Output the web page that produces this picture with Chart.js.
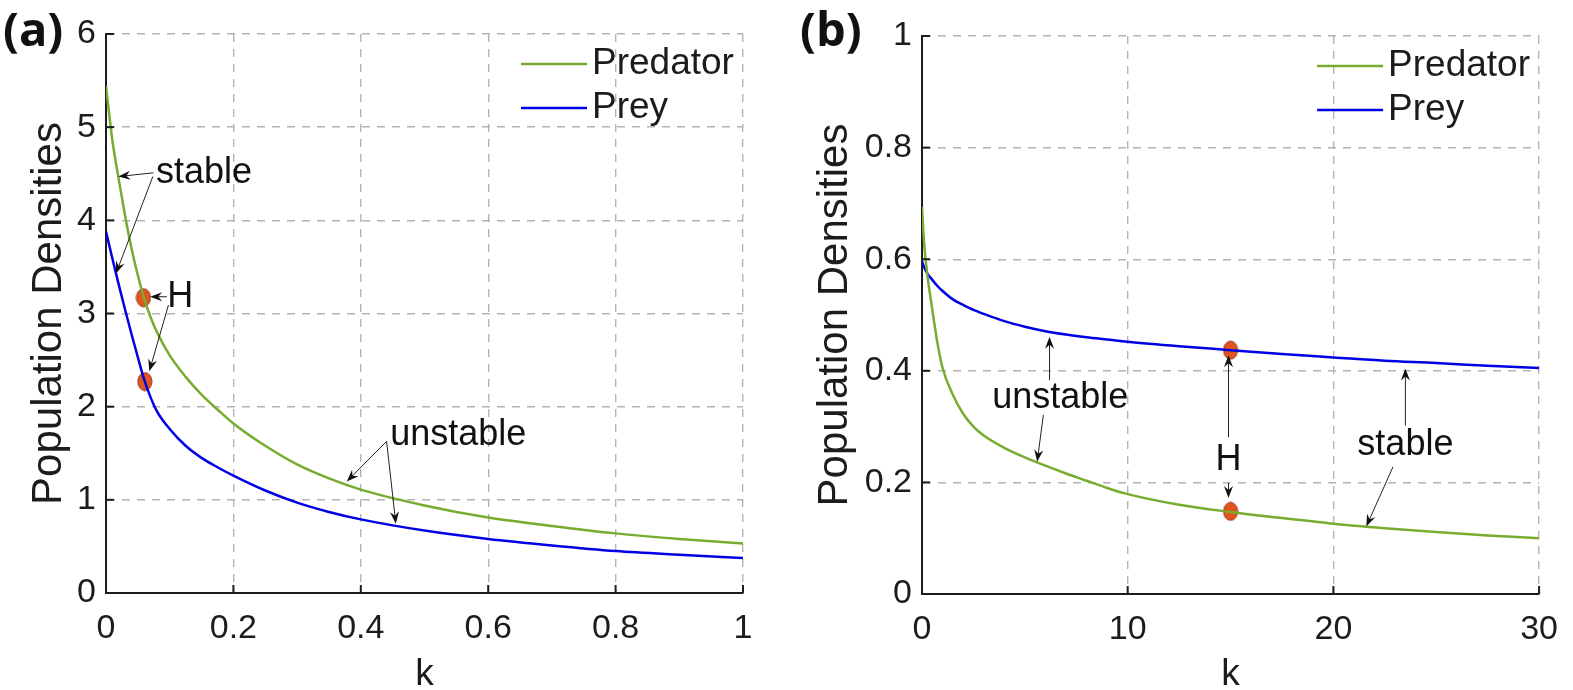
<!DOCTYPE html>
<html>
<head>
<meta charset="utf-8">
<script src="https://cdn.jsdelivr.net/npm/chart.js@4.4.1/dist/chart.umd.min.js"></script>
<style>
  html, body { margin: 0; padding: 0; background: #fff; }
  body { width: 1573px; height: 690px; position: relative; overflow: hidden; }
  .panel { position: absolute; top: 0; height: 690px; }
  #wrapA { left: 0; width: 786px; }
  #wrapB { left: 786px; width: 787px; }
  .tag { position: absolute; font-family: "Open Sans", sans-serif; font-weight: 700; font-size: 47px; line-height: 1; color: #111; }
</style>
</head>
<body>
<div class="panel" id="wrapA"><canvas id="chartA"></canvas></div>
<div class="panel" id="wrapB"><canvas id="chartB"></canvas></div>
<div class="tag" style="left:3px;top:5px">(a)</div>
<div class="tag" style="left:800px;top:5px">(b)</div>
<script>
// panel (a): k in [0, 1]
const kA = [0, 0.01, 0.02, 0.03, 0.04, 0.05, 0.06, 0.07, 0.08, 0.1, 0.125, 0.15, 0.175, 0.2, 0.25, 0.3, 0.35, 0.4, 0.5, 0.6, 0.7, 0.8, 0.9, 1];
const predatorA = [5.44, 4.86, 4.44, 4.05, 3.7, 3.41, 3.16, 2.96, 2.8, 2.55, 2.32, 2.13, 1.97, 1.82, 1.58, 1.38, 1.23, 1.11, 0.94, 0.81, 0.72, 0.64, 0.58, 0.53];
const preyA = [3.88, 3.59, 3.31, 3.04, 2.78, 2.53, 2.29, 2.1, 1.95, 1.76, 1.58, 1.45, 1.35, 1.26, 1.1, 0.97, 0.87, 0.79, 0.67, 0.58, 0.51, 0.45, 0.41, 0.375];
const hopfKA = [0.0588, 0.061];
const hopfVA = [3.17, 2.27];
const xTicksA = [0, 0.2, 0.4, 0.6, 0.8, 1];
const xLabelsA = ['0', '0.2', '0.4', '0.6', '0.8', '1'];
const yTicksA = [0, 1, 2, 3, 4, 5, 6];
const yLabelsA = ['0', '1', '2', '3', '4', '5', '6'];

// panel (b): k in [0, 30]
const kB = [0, 0.1, 0.25, 0.5, 0.75, 1, 1.5, 2, 2.5, 3, 4, 5, 6, 7, 8, 9, 10, 12.5, 15, 17.5, 20, 22.5, 25, 27.5, 30];
const predatorB = [0.694, 0.63, 0.575, 0.51, 0.45, 0.405, 0.357, 0.323, 0.3, 0.284, 0.262, 0.245, 0.23, 0.216, 0.203, 0.19, 0.179, 0.16, 0.147, 0.136, 0.126, 0.118, 0.111, 0.105, 0.1];
const preyB = [0.596, 0.586, 0.575, 0.563, 0.552, 0.543, 0.528, 0.518, 0.509, 0.502, 0.489, 0.479, 0.471, 0.465, 0.46, 0.456, 0.452, 0.444, 0.437, 0.43, 0.424, 0.418, 0.414, 0.409, 0.405];
const hopfKB = [15, 15];
const hopfVB = [0.437, 0.148];
const xTicksB = [0, 10, 20, 30];
const xLabelsB = ['0', '10', '20', '30'];
const yTicksB = [0, 0.2, 0.4, 0.6, 0.8, 1];
const yLabelsB = ['0', '0.2', '0.4', '0.6', '0.8', '1'];

// annotations, anchored in data units: [k, value]
const notesA = [
  { text: 'stable', k: 0.154, v: 4.51 },
  { text: 'H', k: 0.1165, v: 3.18 },
  { text: 'unstable', k: 0.553, v: 1.70 },
];
const arrowsA = [
  [0.0745, 4.51, 0.0194, 4.47],
  [0.0735, 4.47, 0.0157, 3.43],
  [0.0956, 3.18, 0.0693, 3.18],
  [0.098, 3.09, 0.068, 2.38],
  [0.4405, 1.627, 0.378, 1.197],
  [0.4405, 1.627, 0.455, 0.744],
];
const notesB = [
  { text: 'unstable', k: 6.72, v: 0.351 },
  { text: 'H', k: 14.9, v: 0.24 },
  { text: 'stable', k: 23.5, v: 0.267 },
];
const arrowsB = [
  [6.2, 0.383, 6.2, 0.461],
  [5.9, 0.321, 5.6, 0.237],
  [14.9, 0.281, 14.9, 0.428],
  [14.9, 0.199, 14.9, 0.172],
  [23.5, 0.302, 23.5, 0.404],
  [22.9, 0.228, 21.6, 0.121],
];

const FONT = '"Liberation Sans", Arial, Helvetica, sans-serif';
const INK = '#1c1c1c';
const GRID = '#b4b4b4';
const GREEN = '#77AC30';
const BLUE = '#0000E6';

function ellipseDot() {
  const c = document.createElement('canvas');
  c.width = 16; c.height = 20;
  const g = c.getContext('2d');
  g.fillStyle = '#E2561E';
  g.strokeStyle = '#8a2c0c';
  g.lineWidth = 1;
  g.beginPath();
  g.ellipse(8, 10, 7, 9, 0, 0, Math.PI * 2);
  g.fill();
  g.stroke();
  return c;
}
const dotImg = ellipseDot();

function drawArrow(ctx, x1, y1, x2, y2) {
  const ang = Math.atan2(y2 - y1, x2 - x1);
  ctx.beginPath();
  ctx.moveTo(x1, y1);
  ctx.lineTo(x2 - Math.cos(ang) * 6, y2 - Math.sin(ang) * 6);
  ctx.stroke();
  ctx.save();
  ctx.translate(x2, y2);
  ctx.rotate(ang);
  ctx.beginPath();
  ctx.moveTo(0, 0);
  ctx.lineTo(-12, -4.5);
  ctx.lineTo(-8, 0);
  ctx.lineTo(-12, 4.5);
  ctx.closePath();
  ctx.fill();
  ctx.restore();
}

// short inward tick marks, legend and annotations
const decorPlugin = {
  id: 'decor',
  afterDraw(chart, args, opts) {
    const { ctx, chartArea: a, scales: { x, y } } = chart;
    ctx.save();
    ctx.strokeStyle = INK;
    ctx.lineWidth = 2;
    x.ticks.forEach(t => {
      const px = x.getPixelForValue(t.value);
      ctx.beginPath(); ctx.moveTo(px, a.bottom); ctx.lineTo(px, a.bottom - 8); ctx.stroke();
    });
    y.ticks.forEach(t => {
      const py = y.getPixelForValue(t.value);
      ctx.beginPath(); ctx.moveTo(a.left, py); ctx.lineTo(a.left + 8, py); ctx.stroke();
    });

    // legend
    ctx.font = '37px ' + FONT;
    ctx.textBaseline = 'middle';
    ctx.textAlign = 'left';
    chart.data.datasets.filter(d => d.showLine !== false).forEach((d, i) => {
      const ly = a.top + 30 + i * 44;
      ctx.strokeStyle = d.borderColor;
      ctx.lineWidth = 2.5;
      ctx.beginPath(); ctx.moveTo(a.right - 222, ly); ctx.lineTo(a.right - 156, ly); ctx.stroke();
      ctx.fillStyle = INK;
      ctx.fillText(d.label, a.right - 151, ly);
    });

    // annotations
    ctx.font = '36px ' + FONT;
    ctx.fillStyle = '#111';
    ctx.strokeStyle = '#222';
    ctx.lineWidth = 1;
    opts.arrows.forEach(([k1, v1, k2, v2]) => {
      drawArrow(ctx, x.getPixelForValue(k1), y.getPixelForValue(v1), x.getPixelForValue(k2), y.getPixelForValue(v2));
    });
    ctx.textAlign = 'center';
    opts.notes.forEach(n => {
      ctx.fillText(n.text, x.getPixelForValue(n.k), y.getPixelForValue(n.v));
    });
    ctx.restore();
  }
};

function makeChart(id, cfg) {
  const series = (ks, vs) => ks.map((k, i) => ({ x: k, y: vs[i] }));
  return new Chart(document.getElementById(id), {
    type: 'line',
    data: {
      datasets: [
        { label: 'Predator', data: series(cfg.k, cfg.predator), borderColor: GREEN, borderWidth: 2.5,
          pointRadius: 0, cubicInterpolationMode: 'monotone', fill: false },
        { label: 'Prey', data: series(cfg.k, cfg.prey), borderColor: BLUE, borderWidth: 2.5,
          pointRadius: 0, cubicInterpolationMode: 'monotone', fill: false },
        { label: 'H', data: series(cfg.hopfK, cfg.hopfV), showLine: false,
          pointStyle: dotImg, pointRadius: 9, clip: false },
      ]
    },
    options: {
      responsive: true,
      maintainAspectRatio: false,
      animation: false,
      layout: { padding: { left: 0, right: cfg.padRight, top: cfg.padTop, bottom: 0 } },
      plugins: {
        legend: { display: false },
        tooltip: { enabled: false },
        decor: { notes: cfg.notes, arrows: cfg.arrows },
      },
      scales: {
        x: {
          type: 'linear', min: 0, max: cfg.xTicks[cfg.xTicks.length - 1],
          afterBuildTicks: s => { s.ticks = cfg.xTicks.map(v => ({ value: v })); },
          afterFit: s => { s.height = cfg.xHeight; },
          grid: { color: GRID, lineWidth: 1.4, drawTicks: false },
          border: { display: true, color: INK, width: 2, dash: [8, 7] },
          ticks: { font: { family: FONT, size: 34 }, color: INK, padding: 15, maxRotation: 0, autoSkip: false,
                   callback: (v, i) => cfg.xLabels[i] },
          title: { display: true, text: 'k', color: INK, font: { family: FONT, size: 37, lineHeight: 1 },
                   padding: { top: 0, bottom: -3 } },
        },
        y: {
          type: 'linear', min: 0, max: cfg.yTicks[cfg.yTicks.length - 1],
          afterBuildTicks: s => { s.ticks = cfg.yTicks.map(v => ({ value: v })); },
          afterFit: s => { s.width = cfg.yWidth; },
          grid: { color: GRID, lineWidth: 1.4, drawTicks: false },
          border: { display: true, color: INK, width: 2, dash: [8, 7] },
          ticks: { font: { family: FONT, size: 34 }, color: INK, padding: 10, autoSkip: false,
                   callback: (v, i) => cfg.yLabels[i] },
          title: { display: true, text: 'Population Densities', color: INK, font: { family: FONT, size: 42 },
                   padding: { top: 24, bottom: 0 } },
        }
      }
    },
    plugins: [decorPlugin]
  });
}

makeChart('chartA', {
  k: kA, predator: predatorA, prey: preyA, hopfK: hopfKA, hopfV: hopfVA,
  xTicks: xTicksA, xLabels: xLabelsA, yTicks: yTicksA, yLabels: yLabelsA,
  notes: notesA, arrows: arrowsA,
  padRight: 43, padTop: 34, xHeight: 97, yWidth: 106,
});
makeChart('chartB', {
  k: kB, predator: predatorB, prey: preyB, hopfK: hopfKB, hopfV: hopfVB,
  xTicks: xTicksB, xLabels: xLabelsB, yTicks: yTicksB, yLabels: yLabelsB,
  notes: notesB, arrows: arrowsB,
  padRight: 21, padTop: 36, xHeight: 96, yWidth: 136,
});
</script>
</body>
</html>
